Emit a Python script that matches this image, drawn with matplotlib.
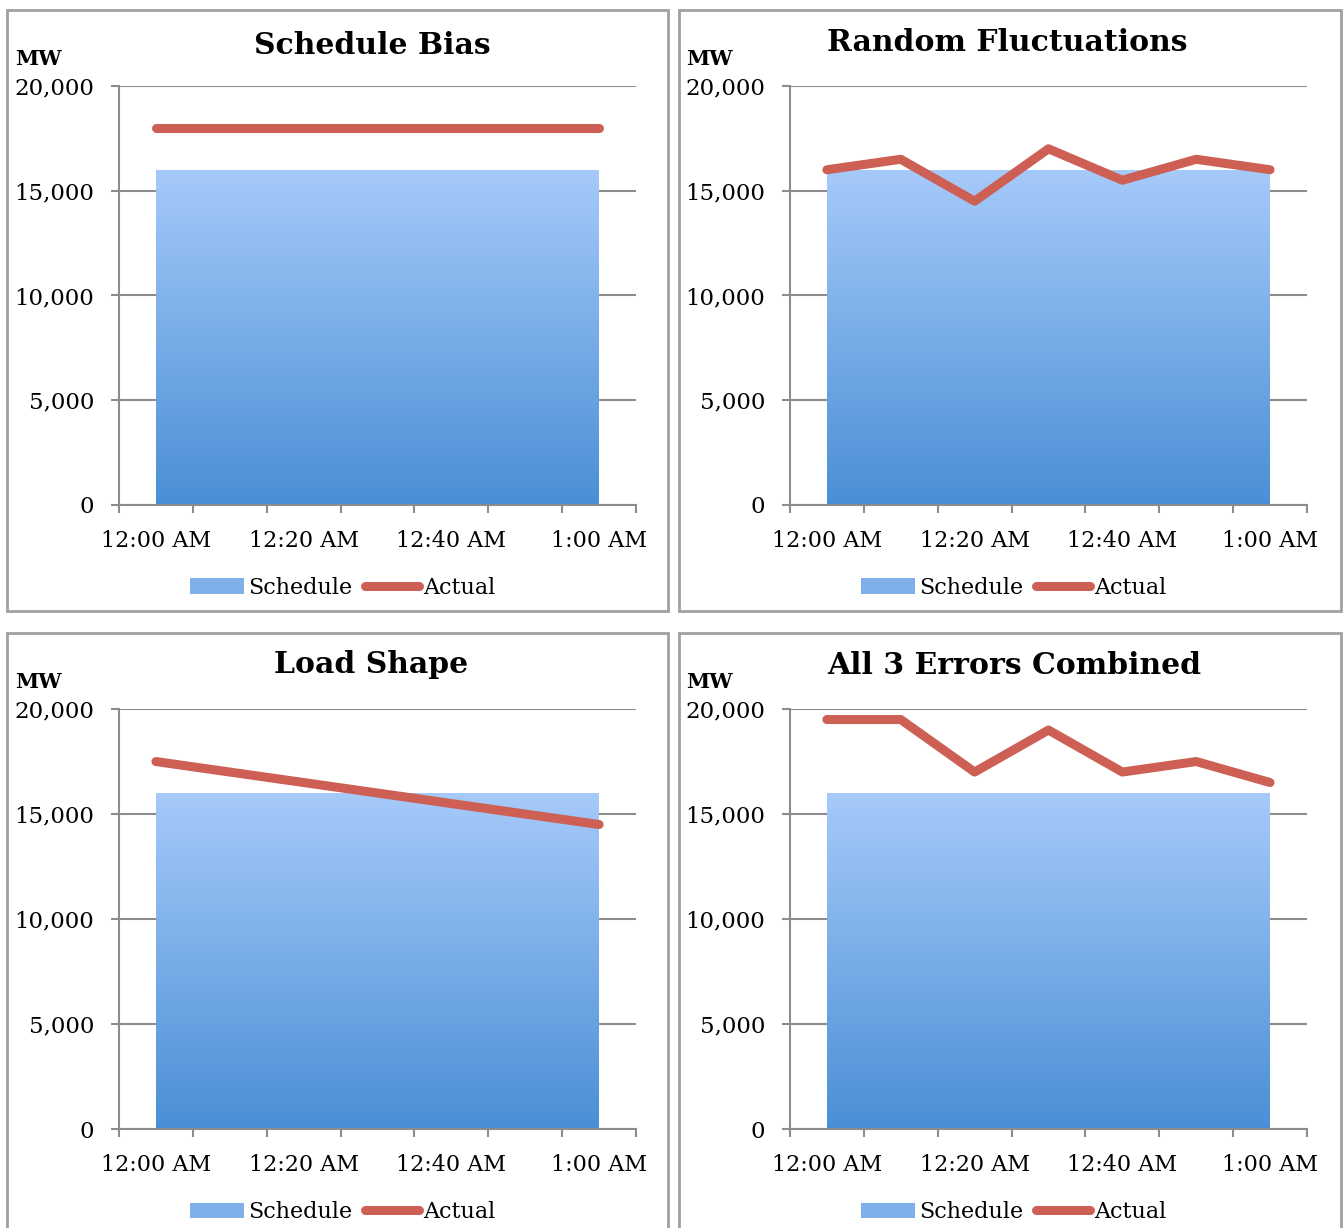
import numpy as np
import matplotlib.pyplot as plt
from matplotlib.patches import Rectangle, Patch
from matplotlib.lines import Line2D
from matplotlib.colors import LinearSegmentedColormap

# 数据
times = ['12:00 AM', '12:10 AM', '12:20 AM', '12:30 AM', '12:40 AM', '12:50 AM', '1:00 AM']
schedule = [16000, 16000, 16000, 16000, 16000, 16000, 16000]
actual_bias = [18000, 18000, 18000, 18000, 18000, 18000, 18000]
actual_random = [16000, 16500, 14500, 17000, 15500, 16500, 16000]
actual_load = [17500, 17000, 16500, 16000, 15500, 15000, 14500]
actual_all = [19500, 19500, 17000, 19000, 17000, 17500, 16500]
titles = ['Schedule Bias', 'Random Fluctuations', 'Load Shape', 'All 3 Errors Combined']
yticks = [0, 5000, 10000, 15000, 20000]

plt.rcParams['font.family'] = ['DejaVu Serif']

red = '#cd5f55'
grid_c = '#8c8c8c'
blue_cmap = LinearSegmentedColormap.from_list('sched', ['#4a8fd5', '#a6cafa'])

fig = plt.figure(figsize=(13.43, 12.28), dpi=100)

# 每个面板: 坐标轴位置, 外框, 标题位置
panels = [
    ([0.0886, 0.5888, 0.385, 0.3412], [0.0052, 0.5024, 0.4922, 0.4894], (0.277, 0.963), actual_bias),
    ([0.5882, 0.5888, 0.385, 0.3412], [0.5056, 0.5024, 0.4929, 0.4894], (0.750, 0.965), actual_random),
    ([0.0886, 0.0806, 0.385, 0.3420], [0.0052, -0.03, 0.4922, 0.5145], (0.276, 0.459), actual_load),
    ([0.5882, 0.0806, 0.385, 0.3420], [0.5056, -0.03, 0.4929, 0.5145], (0.755, 0.458), actual_all),
]

x = np.arange(len(times))
grad = np.linspace(0, 1, 256).reshape(-1, 1)

for (pos, box, tpos, actual), title in zip(panels, titles):
    fig.patches.append(Rectangle((box[0], box[1]), box[2], box[3], transform=fig.transFigure,
                                 facecolor='none', edgecolor='#a0a0a0', linewidth=2, zorder=0))
    ax = fig.add_axes(pos)
    # 渐变面积图
    poly = ax.fill_between(x, 0, schedule, facecolor='none', edgecolor='none')
    im = ax.imshow(grad, cmap=blue_cmap, origin='lower', aspect='auto',
                   extent=[x[0], x[-1], 0, max(schedule)], zorder=2)
    im.set_clip_path(poly.get_paths()[0], transform=ax.transData)
    ax.plot(x, actual, color=red, linewidth=6.5, solid_capstyle='round', zorder=3)

    ax.set_xlim(-0.5, len(times) - 0.5)
    ax.set_ylim(0, 20000)
    ax.set_yticks(yticks)
    ax.set_yticklabels(['{:,}'.format(v) for v in yticks], fontsize=16.5)
    ax.grid(axis='y', color=grid_c, linewidth=1.5, zorder=1)
    ax.set_axisbelow(True)
    ax.set_xticks(x[::2])
    ax.set_xticklabels(times[::2], fontsize=16)
    ax.set_xticks(np.arange(-0.5, len(times)), minor=True)
    ax.tick_params(axis='x', which='major', length=0, pad=18)
    ax.tick_params(axis='x', which='minor', length=6, width=1.5, color=grid_c)
    ax.tick_params(axis='y', length=6, width=1.5, color=grid_c, pad=12)
    for s in ['top', 'right']:
        ax.spines[s].set_visible(False)
    for s in ['left', 'bottom']:
        ax.spines[s].set_color(grid_c)
        ax.spines[s].set_linewidth(1.5)

    ax.text(-0.2, 1.04, 'MW', transform=ax.transAxes, fontsize=15, fontweight='bold',
            ha='left', va='bottom')
    fig.text(tpos[0], tpos[1], title, fontsize=21.5, fontweight='bold', ha='center', va='center')

    handles = [Patch(facecolor='#7fb0ec', edgecolor='none'),
               Line2D([0], [0], color=red, linewidth=6.5, solid_capstyle='round')]
    ax.legend(handles, ['Schedule', 'Actual'], loc='center', bbox_to_anchor=(0.433, -0.198),
              ncol=2, frameon=False, fontsize=16, handlelength=2.4, handletextpad=0.2,
              columnspacing=0.6)

fig.savefig('out.png', dpi=100)
